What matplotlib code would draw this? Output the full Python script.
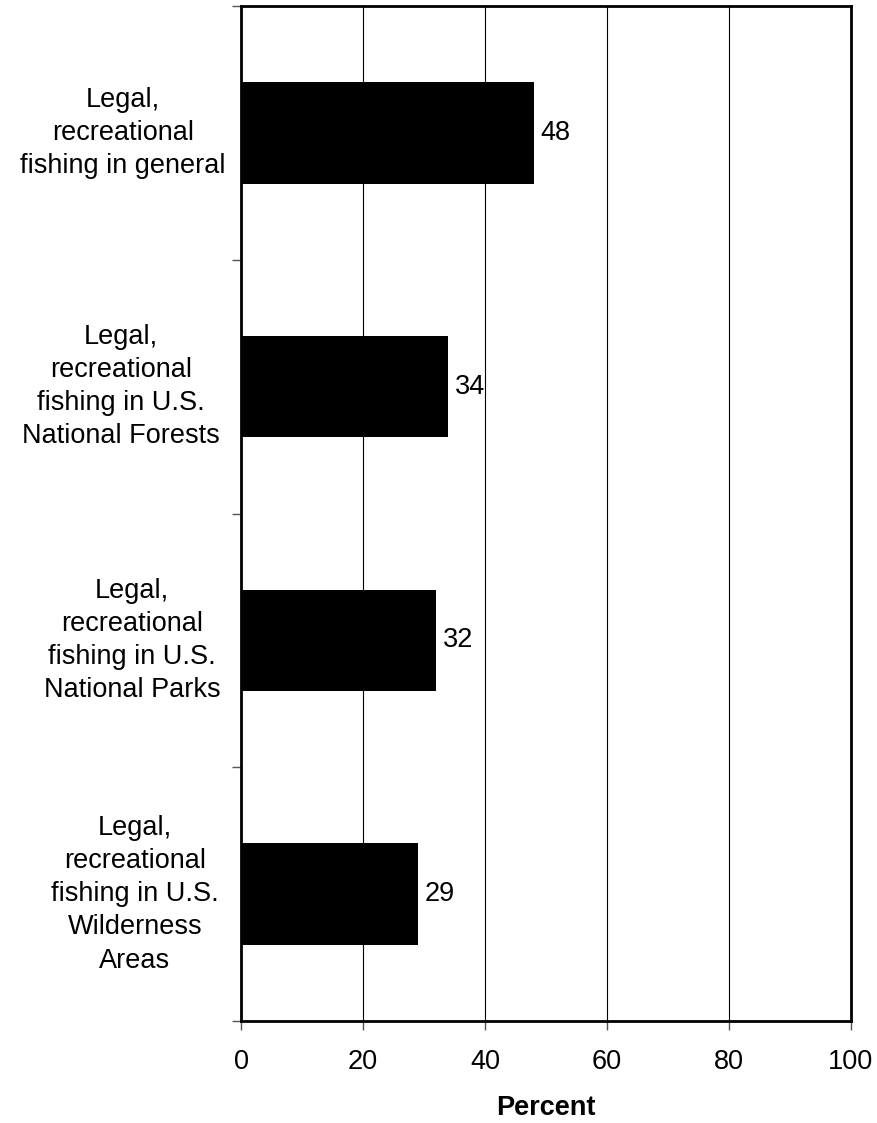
import matplotlib
matplotlib.use("Agg")
import matplotlib.pyplot as plt
from matplotlib.transforms import blended_transform_factory

plt.rcParams["font.family"] = ["Liberation Sans", "DejaVu Sans"]

categories = [
    "Legal,\nrecreational\nfishing in general",
    "Legal,\nrecreational\nfishing in U.S.\nNational Forests",
    "Legal,\nrecreational\nfishing in U.S.\nNational Parks",
    "Legal,\nrecreational\nfishing in U.S.\nWilderness\nAreas",
]
values = [48, 34, 32, 29]
xticks = [0, 20, 40, 60, 80, 100]

# horizontal centre (figure px) of each category label, as in the original
label_x = [123, 121, 132, 135]
FS = 19.5

fig = plt.figure(figsize=(8.77, 11.23), dpi=100)
ax = fig.add_axes([241 / 877, 1 - 1021 / 1123, 610 / 877, 1015 / 1123])

ypos = list(range(len(categories)))
bars = ax.barh(ypos, values, height=0.40, color="black", zorder=3)
for b, v in zip(bars, values):
    ax.annotate(f"{v}", (v, b.get_y() + b.get_height() / 2), xytext=(5, 0),
                textcoords="offset points", va="center", ha="left", fontsize=FS)

ax.set_xlim(0, 100)
ax.set_ylim(len(categories) - 0.5, -0.5)
ax.set_xticks(xticks)
ax.set_xticklabels([str(t) for t in xticks], fontsize=FS)
ax.tick_params(axis="x", direction="out", length=6.5, width=1, pad=14, color="#555555")
ax.set_yticks([i - 0.5 for i in range(len(categories) + 1)])
ax.set_yticklabels([])
ax.tick_params(axis="y", direction="out", length=6.5, width=1, color="#555555")
ax.xaxis.grid(True, color="black", lw=0.8, zorder=0)
for s in ax.spines.values():
    s.set_linewidth(2)

trans = blended_transform_factory(fig.transFigure, ax.transData)
for i, c in enumerate(categories):
    ax.text(label_x[i] / 877, i, c, transform=trans, ha="center", va="center",
            fontsize=FS, linespacing=1.36)

ax.set_xlabel("Percent", fontsize=FS, fontweight="bold", labelpad=14)

fig.savefig("out.png", dpi=100)
